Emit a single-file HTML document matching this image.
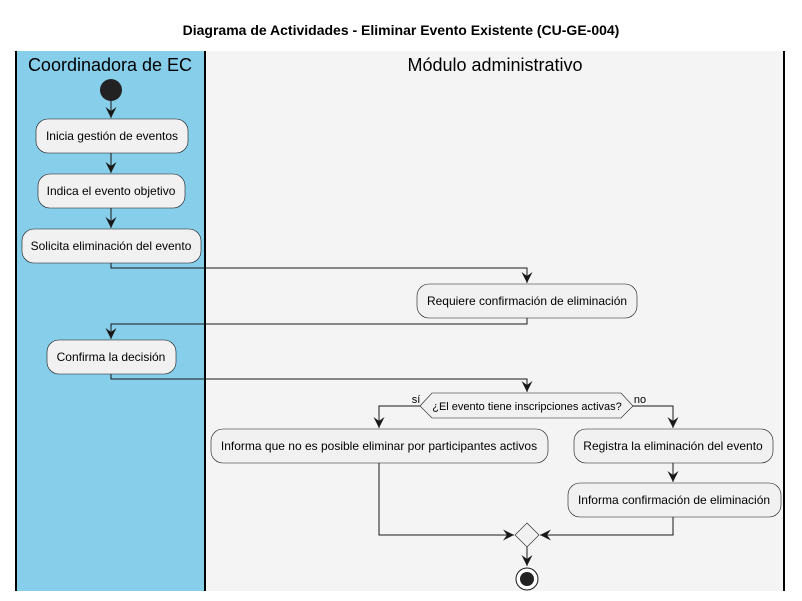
<!DOCTYPE html>
<html><head><meta charset="utf-8"><style>
html,body{margin:0;padding:0;background:#fff;}
svg{display:block;font-family:"Liberation Sans",Arial,sans-serif;}
</style></head><body>
<svg width="802" height="601" viewBox="0 0 802 601" xmlns="http://www.w3.org/2000/svg">
<defs>
<marker id="a" viewBox="0 0 12 12" refX="11" refY="6" markerWidth="12" markerHeight="12" orient="auto" markerUnits="userSpaceOnUse">
<path d="M0,0.5 L11,6 L0,11.5 L4,6 Z" fill="#181818"/>
</marker>
</defs>
<rect width="802" height="601" fill="#fff"/>
<text x="401" y="35" text-anchor="middle" font-size="14" font-weight="bold" fill="#000">Diagrama de Actividades - Eliminar Evento Existente (CU-GE-004)</text>
<rect x="15" y="51" width="190" height="540" fill="#87CEEB"/>
<rect x="205" y="51" width="579" height="540" fill="#F4F4F4"/>
<g stroke="#000" stroke-width="2"><line x1="16" y1="51" x2="16" y2="591"/><line x1="205" y1="51" x2="205" y2="591"/><line x1="784" y1="51" x2="784" y2="591"/></g>
<text x="110" y="71" text-anchor="middle" font-size="18" fill="#000">Coordinadora de EC</text>
<text x="495" y="71" text-anchor="middle" font-size="18" fill="#000">Módulo administrativo</text>
<circle cx="111" cy="90" r="11" fill="#222"/>
<g fill="#F1F1F1" stroke="#181818" stroke-width="0.6">
<rect x="36" y="119" width="152" height="34" rx="12"/>
<rect x="38" y="174" width="147" height="34" rx="12"/>
<rect x="22" y="229" width="179" height="34" rx="12"/>
<rect x="417" y="284" width="220" height="34" rx="12"/>
<rect x="47" y="340" width="129" height="34" rx="12"/>
<polygon points="420,406 432,393 621,393 633,406 621,418 432,418"/>
<rect x="211" y="429" width="337" height="34" rx="12"/>
<rect x="574" y="429" width="199" height="34" rx="12"/>
<rect x="568" y="483" width="213" height="34" rx="12"/>
<polygon points="527,523 539,535 527,547 515,535"/>
</g>
<g stroke="#181818" stroke-width="1" fill="none" marker-end="url(#a)">
<polyline points="111,100 111,118"/>
<polyline points="111,153 111,173"/>
<polyline points="111,208 111,228"/>
<polyline points="111,263 111,268 527,268 527,283"/>
<polyline points="527,318 527,324 111,324 111,339"/>
<polyline points="111,374 111,379 527,379 527,392"/>
<polyline points="420,406 379,406 379,428"/>
<polyline points="633,406 673,406 673,428"/>
<polyline points="673,463 673,482"/>
<polyline points="379,463 379,535 514,535"/>
<polyline points="673,517 673,535 540,535"/>
<polyline points="527,547 527,566"/>
</g>
<circle cx="527" cy="579" r="11" fill="#fff" stroke="#181818" stroke-width="1"/>
<circle cx="527" cy="579" r="7" fill="#222"/>
<g font-size="12" fill="#000" text-anchor="middle">
<text x="112" y="140">Inicia gestión de eventos</text>
<text x="111" y="195">Indica el evento objetivo</text>
<text x="111" y="250">Solicita eliminación del evento</text>
<text x="527" y="305">Requiere confirmación de eliminación</text>
<text x="111" y="361">Confirma la decisión</text>
<text x="379" y="450">Informa que no es posible eliminar por participantes activos</text>
<text x="673" y="450">Registra la eliminación del evento</text>
<text x="674" y="504">Informa confirmación de eliminación</text>
</g>
<g font-size="11" fill="#000" text-anchor="middle">
<text x="527" y="410">¿El evento tiene inscripciones activas?</text>
<text x="416" y="403">sí</text>
<text x="640" y="403">no</text>
</g>
</svg>
</body></html>
